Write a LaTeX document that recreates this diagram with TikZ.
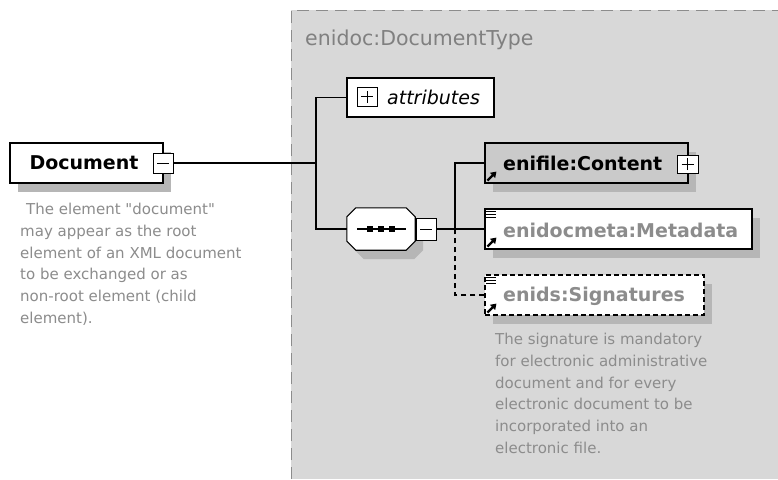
\documentclass[tikz,border=0pt]{standalone}
\usepackage{fontspec}
\setmainfont{DejaVu Sans}
\usetikzlibrary{arrows.meta}
\definecolor{panelgray}{RGB}{216,216,216}
\definecolor{panelline}{RGB}{140,140,140}
\definecolor{shadowgray}{RGB}{182,182,182}
\definecolor{textgray}{RGB}{140,140,140}
\definecolor{titlegray}{RGB}{128,128,128}
\definecolor{boxgray}{RGB}{202,202,202}
\tikzset{
  elbox/.style={rectangle, draw=black, line width=1.1pt, inner sep=0pt, fill=white},
  shadowed/.style={preaction={fill=shadowgray, transform canvas={shift={(8pt,-9pt)}}}},
  toggle/.style={rectangle, draw=black, line width=1pt, fill=white, minimum width=20pt, minimum height=20pt, inner sep=0pt},
  lbl/.style={font=\fontsize{19}{22}\selectfont\bfseries, inner sep=0pt},
  doctext/.style={font=\fontsize{15}{21.7}\selectfont, text=textgray, align=left, inner sep=0pt},
  wire/.style={line width=1.1pt, draw=black},
}
\begin{document}
\begin{tikzpicture}[x=1pt, y=-1pt]
\useasboundingbox (0,0) rectangle (778,479);
\fill[white] (0,0) rectangle (778,479);

% complex type panel
\fill[panelgray] (291,10) rectangle (778,479);
\draw[panelline, line width=1pt, dash pattern=on 12pt off 7pt] (291,479) -- (291,10) -- (778,10);
\node[anchor=west, text=titlegray, font=\fontsize{20.5}{24}\selectfont, inner sep=0pt] (title) at (305,40) {enidoc:DocumentType};

% root element
\node[elbox, shadowed, minimum width=153pt, minimum height=40pt] (doc) at (86.5,163) {};
\node[lbl] (doclbl) at (84,163) {Document};
\node[toggle] (docminus) at (163,163) {};
\draw[line width=1pt] ([xshift=-6pt]docminus.center) -- ([xshift=6pt]docminus.center);
\node[doctext, anchor=north west] (docnote) at (20,203) {\hspace*{0.4em}The element \textquotedbl document\textquotedbl\\may appear as the root\\element of an XML document\\to be exchanged or as\\non-root element (child\\element).};

% attributes
\node[elbox, minimum width=147pt, minimum height=39pt] (attr) at (420.5,97.5) {};
\node[toggle, minimum width=20pt, minimum height=19pt] (attrplus) at (367,96.5) {};
\draw[line width=1pt] ([xshift=-6pt]attrplus.center) -- ([xshift=6pt]attrplus.center)
  ([yshift=-6pt]attrplus.center) -- ([yshift=6pt]attrplus.center);
\node[anchor=west, inner sep=0pt, font=\fontsize{19}{22}\selectfont\itshape] (attrlbl) at (387,97) {attributes};

% sequence compositor: octagon with three dots on a line
\node[rectangle, inner sep=0pt, minimum width=68pt, minimum height=42pt] (seq) at (381,229) {};
\path[draw=black, line width=1.1pt, fill=white, shadowed]
  ([xshift=9pt]seq.north west) -- ([xshift=-9pt]seq.north east)
  -- ([yshift=-9pt]seq.north east) -- ([yshift=9pt]seq.south east)
  -- ([xshift=-9pt]seq.south east) -- ([xshift=9pt]seq.south west)
  -- ([yshift=9pt]seq.south west) -- ([yshift=-9pt]seq.north west) -- cycle;
\draw[line width=1.1pt] ([xshift=-24pt]seq.center) -- ([xshift=25pt]seq.center);
\foreach \dx in {-11,0,11}
  \fill ([xshift=\dx pt]seq.center) ++(-2.8,-2.8) rectangle ++(5.6,5.6);
\node[toggle, minimum width=20pt, minimum height=22pt] (seqminus) at (426,229) {};
\draw[line width=1pt] ([xshift=-6pt]seqminus.center) -- ([xshift=6pt]seqminus.center);

% child elements
\node[elbox, shadowed, fill=boxgray, minimum width=203pt, minimum height=40pt] (content) at (586.5,163) {};
\node[lbl, anchor=west] (contentlbl) at (503,163) {enifile:Content};
\node[toggle, minimum width=21pt, minimum height=18pt] (contentplus) at (687.5,164) {};
\draw[line width=1pt] ([xshift=-6pt]contentplus.center) -- ([xshift=6pt]contentplus.center)
  ([yshift=-6pt]contentplus.center) -- ([yshift=6pt]contentplus.center);

\node[elbox, shadowed, minimum width=267pt, minimum height=40pt] (meta) at (618.5,229) {};
\node[lbl, anchor=west, text=textgray] (metalbl) at (503,230) {enidocmeta:Metadata};

\node[elbox, shadowed, dashed, dash pattern=on 5pt off 3pt, minimum width=219pt, minimum height=40pt] (sigs) at (594.5,295) {};
\node[lbl, anchor=west, text=textgray] (sigslbl) at (503,296) {enids:Signatures};
\node[doctext, anchor=north west] (signote) at (495,333) {The signature is mandatory\\for electronic administrative\\document and for every\\electronic document to be\\incorporated into an\\electronic file.};

% reference arrows and documentation marks
\foreach \n in {content, meta, sigs}
  \draw[line width=2.2pt, -{Triangle[length=5.5pt, width=7pt]}] ([xshift=3pt, yshift=3pt]\n.south west) -- ++(9,-9);
\foreach \n in {meta, sigs}
  \foreach \dy in {3,6,9}
    \draw[line width=1.2pt] ([xshift=2pt, yshift=-\dy pt]\n.north west) -- ++(10,0);

% connectors
\coordinate (busA) at (316,163);
\coordinate (busB) at (455,229);
\draw[wire] (docminus.east) -- (busA);
\draw[wire] (attr.west) -| (busA);
\draw[wire] (seq.west) -| (busA);
\draw[wire] (seqminus.east) -- (meta.west);
\draw[wire] (content.west) -| (busB);
\draw[wire, dashed, dash pattern=on 5pt off 4pt] (sigs.west) -| (busB);
\end{tikzpicture}
\end{document}
